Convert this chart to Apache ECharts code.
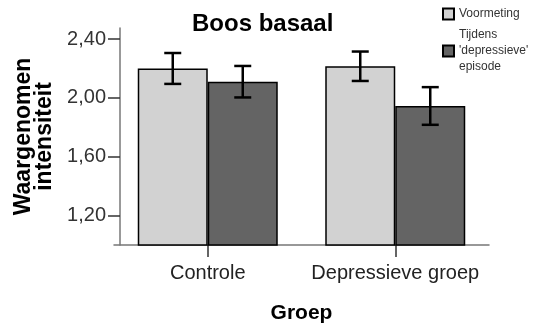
<!DOCTYPE html>
<html>
<head>
<meta charset="utf-8">
<script src="https://cdn.jsdelivr.net/npm/echarts@6/dist/echarts.min.js"></script>
<style>html,body{margin:0;padding:0;background:#fff}#c{width:546px;height:326px}</style>
</head>
<body>
<div id="c"></div>
<script>
var categories = ['Controle', 'Depressieve groep'];
var seriesNames = ['Voormeting', "Tijdens\n'depressieve'\nepisode"];
var voormeting = [2.20, 2.215];
var voormetingErr = [0.105, 0.10];
var tijdens = [2.11, 1.945];
var tijdensErr = [0.107, 0.128];
var tickValues = [1.2, 1.6, 2.0, 2.4];

var FONT = '"Liberation Sans", Arial, sans-serif';
var chart = echarts.init(document.getElementById('c'), null, {renderer: 'canvas'});

function errSeries(means, errs, side) {
  var data = means.map(function (m, i) { return [i, m - errs[i], m + errs[i]]; });
  return {
    type: 'custom',
    silent: true,
    z: 10,
    data: data,
    renderItem: function (params, api) {
      var x = api.value(0);
      var lo = api.coord([x, api.value(1)]);
      var hi = api.coord([x, api.value(2)]);
      var half = 35 * side;
      var cx = lo[0] + half;
      var cw = 8.5;
      var st = {stroke: '#000', lineWidth: 2.5};
      return {
        type: 'group',
        children: [
          {type: 'line', shape: {x1: cx, y1: lo[1], x2: cx, y2: hi[1]}, style: st},
          {type: 'line', shape: {x1: cx - cw, y1: lo[1], x2: cx + cw, y2: lo[1]}, style: st},
          {type: 'line', shape: {x1: cx - cw, y1: hi[1], x2: cx + cw, y2: hi[1]}, style: st}
        ]
      };
    }
  };
}

chart.setOption({
  animation: false,
  title: {
    text: 'Boos basaal',
    left: 187, top: 7,
    textStyle: {fontFamily: FONT, fontSize: 24, fontWeight: 'bold', color: '#000'}
  },
  legend: {
    orient: 'vertical',
    left: 442, top: 6,
    padding: 0,
    icon: 'rect',
    itemWidth: 11, itemHeight: 11,
    itemGap: 5,
    data: seriesNames,
    textStyle: {fontFamily: FONT, fontSize: 12, color: '#333', lineHeight: 16}
  },
  grid: {left: 114, width: 375, top: 28, height: 217, containLabel: false, outerBoundsMode: 'none'},
  xAxis: {
    type: 'category',
    data: categories,
    axisLine: {show: true, lineStyle: {color: '#777', width: 1.5}},
    axisTick: {show: true, alignWithLabel: true, interval: 0, length: 12, lineStyle: {color: '#333', width: 1.5}},
    axisLabel: {fontFamily: FONT, fontSize: 20, color: '#222', margin: 18, interval: 0},
    name: 'Groep',
    nameLocation: 'middle',
    nameGap: 58,
    nameTextStyle: {fontFamily: FONT, fontSize: 21, fontWeight: 'bold', color: '#000'}
  },
  yAxis: {
    type: 'value',
    min: 1.0, max: 2.475,
    offset: -6,
    splitLine: {show: false},
    axisLine: {show: true, lineStyle: {color: '#777', width: 1.5}},
    axisTick: {show: true, length: 12, customValues: tickValues, lineStyle: {color: '#333', width: 1.5}},
    axisLabel: {
      fontFamily: FONT, fontSize: 20, color: '#333', margin: 14,
      customValues: tickValues,
      formatter: function (v) { return v.toFixed(2).replace('.', ','); }
    },
    name: 'Waargenomen\nintensiteit',
    nameLocation: 'middle',
    nameGap: 57,
    nameTextStyle: {fontFamily: FONT, fontSize: 23, fontWeight: 'bold', color: '#000', lineHeight: 21}
  },
  series: [
    {
      name: seriesNames[0], type: 'bar', data: voormeting, barWidth: 70, barGap: '0%',
      itemStyle: {color: '#d2d2d2', borderColor: '#000', borderWidth: 1.5}
    },
    {
      name: seriesNames[1], type: 'bar', data: tijdens, barWidth: 70, barGap: '0%',
      itemStyle: {color: '#646464', borderColor: '#000', borderWidth: 1.5}
    },
    errSeries(voormeting, voormetingErr, -1),
    errSeries(tijdens, tijdensErr, 1)
  ]
});
</script>
</body>
</html>
